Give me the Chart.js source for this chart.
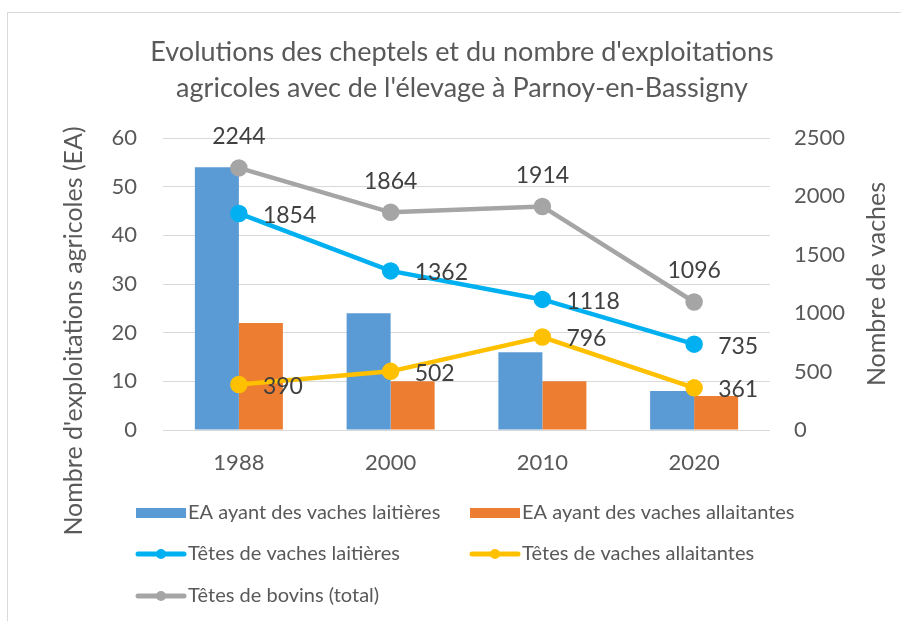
<!DOCTYPE html>
<html>
<head>
<meta charset="utf-8">
<script src="https://cdn.jsdelivr.net/npm/chart.js@4"></script>
<style>
  html, body { margin: 0; padding: 0; background: #fff; }
  #wrap { width: 901px; height: 621px; }
</style>
</head>
<body>
<div id="wrap"><canvas id="myChart" width="901" height="621"></canvas></div>
<script>
// data
const years = ['1988', '2000', '2010', '2020'];
const eaLaitieres = [54, 24, 16, 8];
const eaAllaitantes = [22, 10, 10, 7];
const vachesLaitieres = [1854, 1362, 1118, 735];
const vachesAllaitantes = [390, 502, 796, 361];
const bovinsTotal = [2244, 1864, 1914, 1096];

const titleLines = ["Evolutions des cheptels et du nombre d'exploitations", "agricoles avec de l'élevage à Parnoy-en-Bassigny"];
const leftTitle = "Nombre d'exploitations agricoles (EA)";
const rightTitle = "Nombre de vaches";

const FONT = 'Lato, "Open Sans", sans-serif';
const TXT = '#595959';

// light frame round the whole chart
const framePlugin = {
  id: 'frame',
  beforeDraw(chart) {
    const ctx = chart.ctx;
    ctx.save();
    ctx.strokeStyle = '#d9d9d9';
    ctx.lineWidth = 1;
    ctx.strokeRect(7.5, 12.5, 900, 620);
    ctx.restore();
  }
};

// axis titles
const axisTitlePlugin = {
  id: 'axisTitles',
  afterDraw(chart) {
    const ctx = chart.ctx;
    ctx.save();
    ctx.fillStyle = TXT;
    ctx.font = '25px ' + FONT;
    ctx.textAlign = 'center';
    ctx.textBaseline = 'middle';
    ctx.translate(74, 331);
    ctx.rotate(-Math.PI / 2);
    ctx.fillText(leftTitle, 0, 0);
    ctx.restore();

    ctx.save();
    ctx.fillStyle = TXT;
    ctx.font = '25px ' + FONT;
    ctx.textAlign = 'center';
    ctx.textBaseline = 'middle';
    ctx.translate(877, 284);
    ctx.rotate(-Math.PI / 2);
    ctx.fillText(rightTitle, 0, 0);
    ctx.restore();
  }
};

// value labels on the lines
const valueLabelPlugin = {
  id: 'valueLabels',
  afterDatasetsDraw(chart) {
    const ctx = chart.ctx;
    ctx.save();
    ctx.fillStyle = '#404040';
    ctx.font = '23px ' + FONT;
    ctx.textBaseline = 'middle';
    chart.data.datasets.forEach((ds, i) => {
      if (ds.type !== 'line') return;
      const meta = chart.getDatasetMeta(i);
      meta.data.forEach((pt, j) => {
        const v = ds.data[j];
        if (ds.labelPos === 'above') {
          ctx.textAlign = 'center';
          ctx.fillText(v, pt.x, pt.y - 31);
        } else {
          ctx.textAlign = 'left';
          ctx.fillText(v, pt.x + 24, pt.y + 2);
        }
      });
    });
    ctx.restore();
  }
};

// legend in two columns at the bottom
const legendPlugin = {
  id: 'colLegend',
  afterDraw(chart) {
    const ctx = chart.ctx;
    const cols = [136, 470];
    const rows = [513, 554, 596];
    ctx.save();
    ctx.font = '20px ' + FONT;
    ctx.textBaseline = 'middle';
    ctx.textAlign = 'left';
    chart.data.datasets.forEach((ds, i) => {
      const x = cols[i % 2];
      const y = rows[Math.floor(i / 2)];
      if (ds.type === 'bar') {
        ctx.fillStyle = ds.backgroundColor;
        ctx.fillRect(x, y - 5, 50, 10);
      } else {
        ctx.strokeStyle = ds.borderColor;
        ctx.lineWidth = 5;
        ctx.lineCap = 'round';
        ctx.beginPath();
        ctx.moveTo(x + 2, y);
        ctx.lineTo(x + 48, y);
        ctx.stroke();
        ctx.fillStyle = ds.borderColor;
        ctx.beginPath();
        ctx.arc(x + 25, y, 5, 0, Math.PI * 2);
        ctx.fill();
      }
      ctx.fillStyle = TXT;
      ctx.fillText(ds.label, x + 52, y);
    });
    ctx.restore();
  }
};

const tickFont = { family: FONT, size: 22 };

const myChart = new Chart(document.getElementById('myChart'), {
  data: {
    labels: years,
    datasets: [
      { type: 'bar', label: 'EA ayant des vaches laitières', data: eaLaitieres, backgroundColor: '#5B9BD5', yAxisID: 'y', order: 2, categoryPercentage: 0.58, barPercentage: 1 },
      { type: 'bar', label: 'EA ayant des vaches allaitantes', data: eaAllaitantes, backgroundColor: '#ED7D31', yAxisID: 'y', order: 2, categoryPercentage: 0.58, barPercentage: 1 },
      { type: 'line', label: 'Têtes de vaches laitières', data: vachesLaitieres, borderColor: '#00B0F0', backgroundColor: '#00B0F0', labelPos: 'right', yAxisID: 'y1', order: 1, borderWidth: 4.5, pointRadius: 6.5, pointBackgroundColor: '#00B0F0', pointBorderColor: '#00B0F0' },
      { type: 'line', label: 'Têtes de vaches allaitantes', data: vachesAllaitantes, borderColor: '#FFC000', backgroundColor: '#FFC000', labelPos: 'right', yAxisID: 'y1', order: 1, borderWidth: 4.5, pointRadius: 6.5, pointBackgroundColor: '#FFC000', pointBorderColor: '#FFC000' },
      { type: 'line', label: 'Têtes de bovins (total)', data: bovinsTotal, borderColor: '#A5A5A5', backgroundColor: '#A5A5A5', labelPos: 'above', yAxisID: 'y1', order: 1, borderWidth: 4.5, pointRadius: 6.5, pointBackgroundColor: '#A5A5A5', pointBorderColor: '#A5A5A5' }
    ]
  },
  options: {
    responsive: false,
    animation: false,
    layout: { padding: { left: 23, right: 0, top: 16, bottom: 141 } },
    plugins: {
      legend: { display: false },
      tooltip: { enabled: false },
      title: {
        display: true,
        text: titleLines,
        color: TXT,
        font: { family: FONT, size: 27, weight: 'normal', lineHeight: 36 / 27 },
        padding: { top: 18, bottom: 32 }
      }
    },
    scales: {
      x: {
        offset: true,
        grid: { display: false, drawTicks: false },
        border: { display: false },
        ticks: { color: TXT, font: tickFont, padding: 20 },
        afterFit: s => { s.height = 50; }
      },
      y: {
        position: 'left',
        min: 0, max: 60,
        ticks: { stepSize: 10, color: TXT, font: tickFont, padding: 26 },
        grid: { color: '#d9d9d9', lineWidth: 1, drawTicks: false },
        border: { display: false },
        afterFit: s => { s.width = 140; }
      },
      y1: {
        position: 'right',
        min: 0, max: 2500,
        ticks: { stepSize: 500, color: TXT, font: tickFont, padding: 24, callback: v => String(v) },
        grid: { display: false, drawTicks: false },
        border: { display: false },
        afterFit: s => { s.width = 131; }
      }
    }
  },
  plugins: [framePlugin, axisTitlePlugin, valueLabelPlugin, legendPlugin]
});
</script>
</body>
</html>
